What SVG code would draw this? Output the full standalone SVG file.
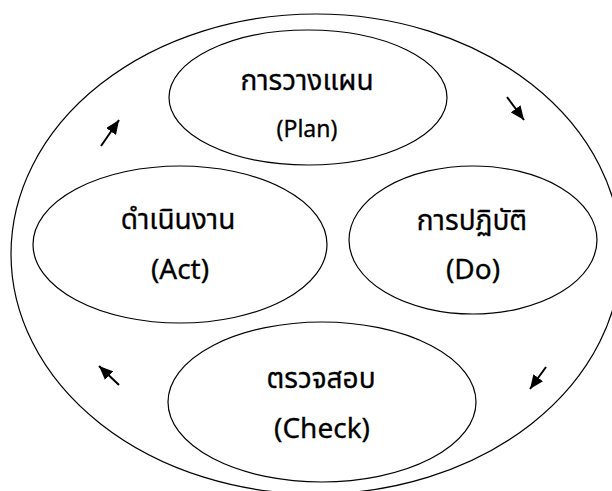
<svg xmlns="http://www.w3.org/2000/svg" width="612" height="491" viewBox="0 0 612 491">
<style>
.sh{fill:#fff;stroke:#000;stroke-width:1.2}
.t{font-family:"Noto Sans Thai","Tahoma","DejaVu Sans","Noto Sans",sans-serif;fill:#000;stroke:#000;stroke-width:0.3;text-anchor:middle}
.th{font-size:28px}
.en{font-size:28px}
.ar{stroke:#000;stroke-width:2;fill:none;marker-end:url(#ah)}
</style>
<defs>
<marker id="ah" markerUnits="userSpaceOnUse" markerWidth="14" markerHeight="12" refX="14" refY="6" orient="auto">
<path d="M0,0 L14,6 L0,12 z" fill="#000"/>
</marker>
</defs>
<rect width="612" height="491" fill="#fff"/>
<g id="cycle">
<ellipse class="sh" cx="316" cy="254" rx="305" ry="240"/>
</g>
<g id="plan">
<ellipse class="sh" cx="308" cy="97.5" rx="139" ry="67.5"/>
<text class="t th" x="307" y="90">การวางแผน</text>
<text class="t" style="font-size:23px" x="307" y="137">(Plan)</text>
</g>
<g id="act">
<ellipse class="sh" cx="180" cy="244.5" rx="147" ry="78.5"/>
<text class="t th" x="178" y="229">ดำเนินงาน</text>
<text class="t en" x="180" y="279">(Act)</text>
</g>
<g id="do">
<ellipse class="sh" cx="473" cy="240" rx="124" ry="74"/>
<text class="t th" x="472" y="230">การปฏิบัติ</text>
<text class="t en" x="473" y="279">(Do)</text>
</g>
<g id="check">
<ellipse class="sh" cx="322" cy="402" rx="154" ry="80"/>
<text class="t th" x="321" y="388">ตรวจสอบ</text>
<text class="t en" x="322" y="438">(Check)</text>
</g>
<g id="connectors">
<line class="ar" x1="507" y1="97" x2="524" y2="120"/>
<line class="ar" x1="546" y1="367" x2="530" y2="389"/>
<line class="ar" x1="119" y1="385" x2="99" y2="366"/>
<line class="ar" x1="101" y1="146" x2="119" y2="120"/>
</g>
</svg>
